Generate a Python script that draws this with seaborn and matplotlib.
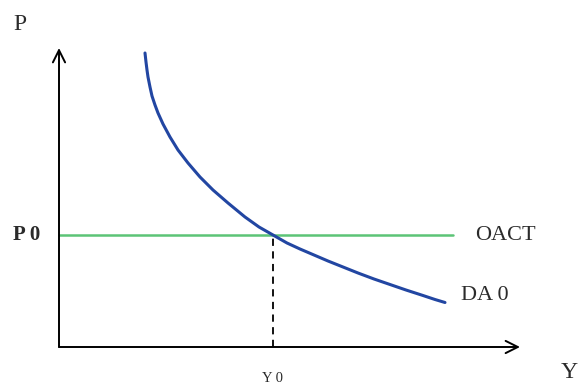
import numpy as np
import matplotlib
matplotlib.use("Agg")
import matplotlib.pyplot as plt
import seaborn as sns

# demand curve DA 0 (origin at the axes corner)
da_y = [86, 87, 88, 89, 91, 93, 96, 99, 104, 111, 119, 129, 141, 154, 169,
        186, 200, 214, 228, 241, 255, 269, 284, 299, 315, 331, 347, 364,
        376, 386]
da_p = [294, 285, 277, 270, 260, 251, 242, 234, 223, 210, 197, 184, 170,
        157, 144, 130, 120, 112, 104, 98, 92, 86, 80, 74, 68, 62.5, 57,
        51.5, 47.5, 44.5]

# supply line OACT and equilibrium
oact_y = [0, 394]
p0 = 112
y0 = 214
axis_len_y = 461
axis_len_p = 299


def draw_diagram():
    sns.set_style("white")
    plt.rcParams["font.family"] = ["Liberation Serif", "DejaVu Serif"]

    fig = plt.figure(figsize=(5.79, 3.89), dpi=100)
    ax = fig.add_axes([0, 0, 1, 1])
    ax.set_xlim(-59, 520)
    ax.set_ylim(-42, 347)
    ax.axis("off")

    # axes with open arrow heads
    arrow = dict(arrowstyle="->", color="black", lw=1.4, mutation_scale=22,
                 shrinkA=0, shrinkB=0)
    ax.annotate("", xy=(axis_len_y, 0), xytext=(0, 0), arrowprops=arrow)
    ax.annotate("", xy=(0, axis_len_p), xytext=(0, 0), arrowprops=arrow)

    # OACT horizontal line
    sns.lineplot(x=oact_y, y=[p0, p0], ax=ax, color="#5cc476", lw=1.8)
    # DA 0 curve
    sns.lineplot(x=da_y, y=da_p, ax=ax, color="#2246a2", lw=2.2, sort=False)
    # dashed drop line at Y0
    ax.plot([y0, y0], [0, p0], color="black", lw=1.3, ls=(0, (4, 3)))

    txt = "#2b2b2b"
    ax.text(-39, 323, "P", fontsize=17, ha="center", va="center", color=txt)
    ax.text(-32, p0, "P 0", fontsize=15, ha="center", va="center",
            fontweight="bold", color=txt)
    ax.text(y0, -31, "Y 0", fontsize=10.5, ha="center", va="center", color=txt)
    ax.text(510, -26, "Y", fontsize=17, ha="center", va="center", color=txt)
    ax.text(446, 111, "OACT", fontsize=16, ha="center", va="center", color=txt)
    ax.text(426, 51, "DA 0", fontsize=16, ha="center", va="center", color=txt)

    fig.savefig("out.png", dpi=100)
    plt.close(fig)


if __name__ == "__main__":
    draw_diagram()
